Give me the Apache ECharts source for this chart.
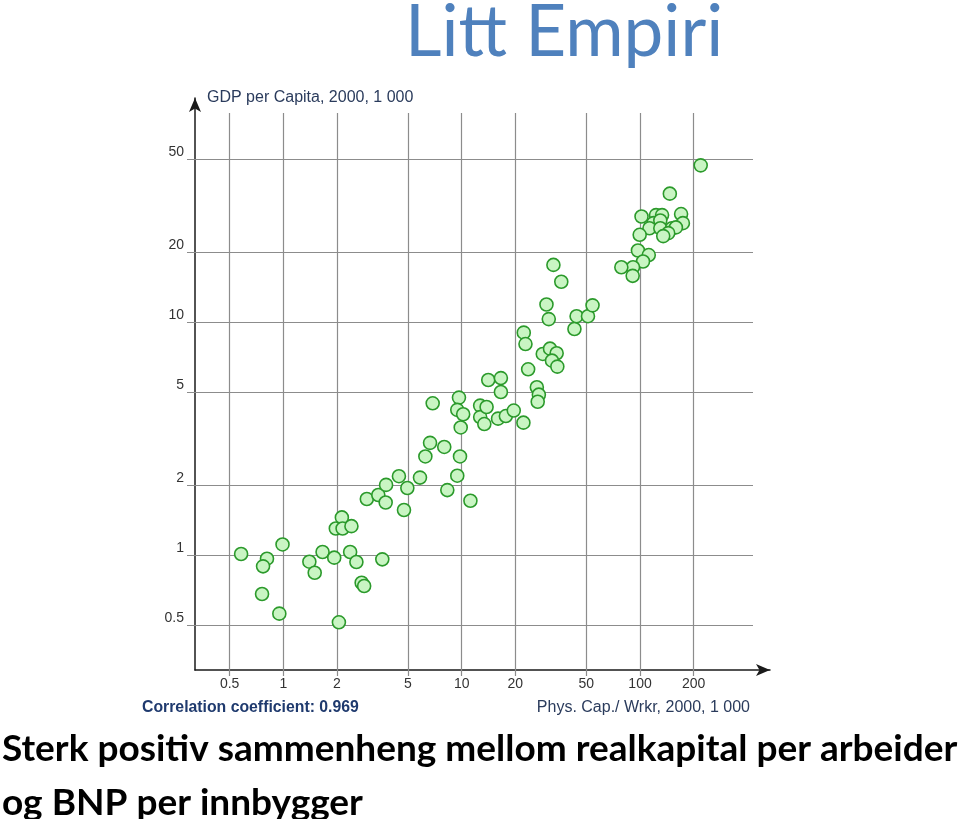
<!DOCTYPE html>
<html>
<head>
<meta charset="utf-8">
<script src="https://cdn.jsdelivr.net/npm/echarts@6/dist/echarts.min.js"></script>
<style>html,body{margin:0;padding:0;background:#fff}#chart{width:960px;height:819px}</style>
</head>
<body>
<div id="chart"></div>
<script>
// Physical capital per worker, 2000 (1 000)
const physCap = [0.58,0.81,0.77,0.99,0.76,0.95,1.40,1.66,1.50,1.93,2.13,1.97,2.15,2.41,2.37,2.57,3.59,2.75,2.84,2.05,
  2.94,3.41,3.77,3.75,4.45,4.96,4.75,5.84,6.26,6.65,7.99,6.88,8.31,9.45,9.79,9.88,9.66,9.45,10.2,11.2,12.7,12.7,13.4,13.8,14.1,
  16.0,17.7,19.6,22.2,16.6,16.6,23.6,22.3,22.8,26.4,27.1,26.7,28.5,31.3,34.1,32.1,34.4,29.9,30.8,42.9,44.1,51.1,54.2,
  32.7,36.2,
  219,147,102,123,133,170,119,130,113,130,151,174,159,144,135,99.6,97.4,112,104,91.4,78.6,91.0];
// GDP per capita, 2000 (1 000)
const gdpPerCapita = [1.01,0.964,0.894,1.11,0.680,0.560,0.936,1.03,0.839,0.974,1.45,1.30,1.30,1.33,1.03,0.933,0.958,0.760,0.736,0.514,
  1.74,1.81,2.00,1.68,2.18,1.94,1.56,2.15,2.65,3.03,2.91,4.48,1.90,2.19,2.65,3.53,4.74,4.20,4.02,1.71,4.38,3.91,3.65,4.32,5.64,
  3.85,3.95,4.17,3.70,5.75,5.01,6.27,9.01,8.05,5.25,4.88,4.55,7.30,7.69,7.35,6.83,6.44,11.9,10.3,9.34,10.6,10.6,11.8,
  17.6,14.9,
  47.1,35.6,28.4,28.8,28.8,29.1,26.6,27.3,25.3,25.3,25.3,26.6,25.5,24.1,23.4,23.7,20.3,19.4,18.2,17.2,17.2,15.8];
const xTickValues = [0.5,1,2,5,10,20,50,100,200];
const xTickLabels = ['0.5','1','2','5','10','20','50','100','200'];
const yTickValues = [0.5,1,2,5,10,20,50];
const yTickLabels = ['0.5','1','2','5','10','20','50'];

const titleText = 'Litt Empiri';
const xAxisName = 'Phys. Cap./ Wrkr, 2000, 1 000';
const yAxisName = 'GDP per Capita, 2000, 1 000';
const corrText = 'Correlation coefficient: 0.969';
const captionText = 'Sterk positiv sammenheng mellom realkapital per arbeider\nog BNP per innbygger';

// data grid (log axes with arrows)
const X_MIN = 0.3198, X_MAX = 535.8, Y_MIN = 0.3208, Y_MAX = 91.67;
// reference-line grid: same log scale, extents from tick start to grid-line end
const X_TICK_START = 0.2884, X_GRID_END = 430;
const Y_TICK_START = 0.302, Y_GRID_END = 79.0;

const points = physCap.map((x, i) => [x, gdpPerCapita[i]]);

const labelFont = 'Liberation Sans, Arial, sans-serif';
const gridLines = [];
xTickValues.forEach((v, i) => {
  gridLines.push([
    {coord: [v, Y_TICK_START], label: {show: true, position: 'start', formatter: xTickLabels[i], distance: 1}},
    {coord: [v, Y_GRID_END]}
  ]);
});
yTickValues.forEach((v, i) => {
  gridLines.push([
    {coord: [X_TICK_START, v], label: {show: true, position: 'start', formatter: yTickLabels[i], distance: 3, verticalAlign: 'bottom'}},
    {coord: [X_GRID_END, v]}
  ]);
});

const hiddenAxis = {show: false, axisLine: {show: false}, axisTick: {show: false}, axisLabel: {show: false}, splitLine: {show: false}};

const chart = echarts.init(document.getElementById('chart'), null, {renderer: 'canvas'});
chart.setOption({
  backgroundColor: '#ffffff',
  animation: false,
  title: [
    {text: titleText, left: 405, top: -2, padding: 0,
     textStyle: {fontFamily: 'Lato, sans-serif', fontSize: 71, fontWeight: 'normal', color: '#4f81bd'}},
    {text: corrText, left: 142, top: 700, padding: 0,
     textStyle: {fontFamily: labelFont, fontSize: 15.8, fontWeight: 'bold', color: '#1f3a6e'}},
    {text: captionText, left: 2, top: 722, padding: 0,
     textStyle: {fontFamily: 'Lato, sans-serif', fontSize: 37, fontWeight: 'bold', color: '#000', lineHeight: 54}}
  ],
  grid: [
    {left: 195, right: 190, top: 98, bottom: 149},
    {left: 187, right: 207, top: 113, bottom: 143}
  ],
  xAxis: [{
    type: 'log', logBase: 10, min: X_MIN, max: X_MAX, gridIndex: 0,
    name: xAxisName, nameLocation: 'end', nameGap: -20,
    nameTextStyle: {fontFamily: labelFont, fontSize: 16, color: '#2a3b5c', align: 'right', verticalAlign: 'top', padding: [30, 0, 0, 0]},
    axisLine: {show: true, onZero: false, symbol: ['none', 'arrow'], symbolSize: [9, 14], lineStyle: {color: '#1a1a1a', width: 1.5}},
    axisTick: {show: false}, axisLabel: {show: false}, splitLine: {show: false}
  }, Object.assign({type: 'log', logBase: 10, min: X_TICK_START, max: X_GRID_END, gridIndex: 1}, hiddenAxis)],
  yAxis: [{
    type: 'log', logBase: 10, min: Y_MIN, max: Y_MAX, gridIndex: 0,
    name: yAxisName, nameLocation: 'end', nameGap: 0,
    nameTextStyle: {fontFamily: labelFont, fontSize: 16, color: '#2a3b5c', align: 'left', verticalAlign: 'middle', padding: [0, 0, 0, 12]},
    axisLine: {show: true, onZero: false, symbol: ['none', 'arrow'], symbolSize: [9, 14], lineStyle: {color: '#1a1a1a', width: 1.5}},
    axisTick: {show: false}, axisLabel: {show: false}, splitLine: {show: false}
  }, Object.assign({type: 'log', logBase: 10, min: Y_TICK_START, max: Y_GRID_END, gridIndex: 1}, hiddenAxis)],
  series: [
    {
      type: 'scatter', data: [], xAxisIndex: 1, yAxisIndex: 1, silent: true, z: 1,
      markLine: {
        silent: true, z: 1, symbol: ['none', 'none'], animation: false,
        lineStyle: {color: '#8c8c8c', width: 1.2, type: 'solid'},
        label: {color: '#333', fontFamily: labelFont, fontSize: 14},
        emphasis: {disabled: true},
        data: gridLines
      }
    },
    {
      type: 'scatter', z: 3, xAxisIndex: 0, yAxisIndex: 0, data: points, symbol: 'circle', symbolSize: 13,
      itemStyle: {color: '#c9f5c3', borderColor: '#2b9a2b', borderWidth: 1.6, opacity: 1}
    }
  ]
});
</script>
</body>
</html>
